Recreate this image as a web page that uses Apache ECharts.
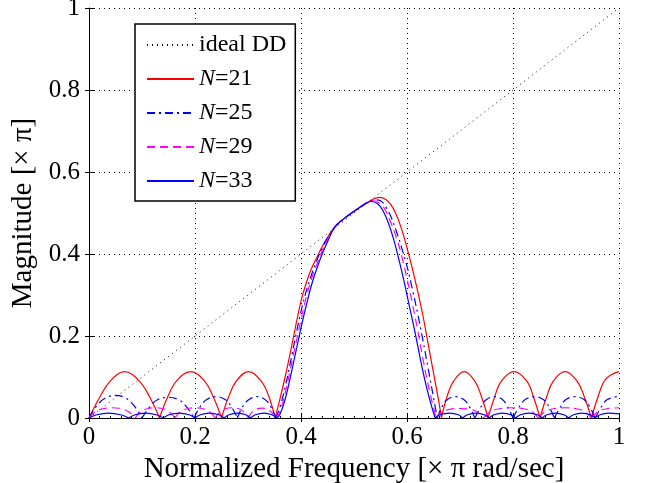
<!DOCTYPE html>
<html lang="en">
<head>
  <meta charset="utf-8">
  <title>Differentiator magnitude response</title>
  <script src="https://cdn.jsdelivr.net/npm/echarts@6/dist/echarts.min.js"></script>
  <style>
    * { margin: 0; padding: 0; }
    html, body, #chart { width: 645px; height: 483px; background: #fff; }
  </style>
</head>
<body>
  <div id="chart"></div>
  <script>
    // ideal differentiator response (straight line)
    const idealDD = [[0, 0], [1, 1]];

    // each curve is kept as lobes: stopband arches + the passband hump
    const n21 = [
      [[0, 0], [0.02, 0.05], [0.04, 0.09], [0.067, 0.113], [0.095, 0.09], [0.115, 0.05], [0.133, 0]],
      [[0.133, 0], [0.148, 0.05], [0.165, 0.09], [0.192, 0.113], [0.218, 0.09], [0.235, 0.05], [0.25, 0]],
      [[0.25, 0], [0.263, 0.05], [0.278, 0.09], [0.301, 0.113], [0.325, 0.09], [0.34, 0.05], [0.351, 0]],
      [[0.351, 0], [0.36, 0.045], [0.37, 0.1], [0.38, 0.16], [0.39, 0.225], [0.4, 0.285], [0.41, 0.33], [0.42, 0.365],
       [0.433, 0.4], [0.445, 0.43], [0.464, 0.466], [0.48, 0.485], [0.5, 0.504], [0.52, 0.522], [0.535, 0.533],
       [0.548, 0.538], [0.56, 0.533], [0.57, 0.52], [0.58, 0.495], [0.59, 0.46], [0.6, 0.415], [0.61, 0.365],
       [0.62, 0.31], [0.63, 0.25], [0.64, 0.18], [0.65, 0.11], [0.66, 0.04], [0.665, 0]],
      [[0.665, 0], [0.675, 0.05], [0.688, 0.09], [0.708, 0.113], [0.728, 0.09], [0.741, 0.05], [0.753, 0]],
      [[0.753, 0], [0.765, 0.05], [0.778, 0.09], [0.802, 0.113], [0.826, 0.09], [0.839, 0.05], [0.851, 0]],
      [[0.851, 0], [0.863, 0.05], [0.876, 0.09], [0.898, 0.113], [0.921, 0.09], [0.935, 0.05], [0.948, 0]],
      [[0.948, 0], [0.96, 0.05], [0.975, 0.095], [1, 0.113]]
    ];

    const n25 = [
      [[0, 0], [0.015, 0.03], [0.03, 0.048], [0.05, 0.055], [0.07, 0.048], [0.085, 0.03], [0.1, 0]],
      [[0.1, 0], [0.115, 0.028], [0.13, 0.045], [0.15, 0.05], [0.17, 0.044], [0.185, 0.026], [0.198, 0]],
      [[0.198, 0], [0.21, 0.028], [0.222, 0.045], [0.24, 0.052], [0.257, 0.045], [0.269, 0.027], [0.28, 0]],
      [[0.28, 0], [0.29, 0.028], [0.302, 0.045], [0.318, 0.052], [0.334, 0.043], [0.344, 0.025], [0.352, 0]],
      [[0.352, 0], [0.36, 0.025], [0.37, 0.075], [0.38, 0.135], [0.39, 0.2], [0.4, 0.26], [0.41, 0.31], [0.42, 0.35],
       [0.43, 0.385], [0.44, 0.415], [0.45, 0.44], [0.464, 0.466], [0.48, 0.485], [0.5, 0.504], [0.52, 0.522],
       [0.53, 0.528], [0.54, 0.532], [0.55, 0.53], [0.56, 0.515], [0.57, 0.49], [0.58, 0.455], [0.59, 0.415],
       [0.6, 0.37], [0.61, 0.315], [0.62, 0.255], [0.63, 0.19], [0.64, 0.12], [0.65, 0.05], [0.657, 0]],
      [[0.657, 0], [0.667, 0.03], [0.677, 0.046], [0.692, 0.052], [0.707, 0.045], [0.718, 0.027], [0.728, 0]],
      [[0.728, 0], [0.74, 0.028], [0.75, 0.045], [0.765, 0.052], [0.78, 0.045], [0.79, 0.027], [0.8, 0]],
      [[0.8, 0], [0.812, 0.028], [0.823, 0.045], [0.84, 0.052], [0.857, 0.045], [0.868, 0.027], [0.878, 0]],
      [[0.878, 0], [0.89, 0.028], [0.9, 0.045], [0.917, 0.052], [0.934, 0.045], [0.945, 0.027], [0.955, 0]],
      [[0.955, 0], [0.967, 0.028], [0.978, 0.045], [1, 0.053]]
    ];

    const n29 = [
      [[0, 0], [0.012, 0.015], [0.025, 0.022], [0.043, 0.025], [0.062, 0.022], [0.075, 0.015], [0.087, 0]],
      [[0.087, 0], [0.097, 0.015], [0.108, 0.022], [0.125, 0.025], [0.142, 0.022], [0.152, 0.015], [0.162, 0]],
      [[0.162, 0], [0.172, 0.015], [0.183, 0.022], [0.2, 0.025], [0.217, 0.022], [0.228, 0.015], [0.238, 0]],
      [[0.238, 0], [0.247, 0.015], [0.256, 0.022], [0.27, 0.025], [0.284, 0.022], [0.292, 0.015], [0.3, 0]],
      [[0.3, 0], [0.308, 0.015], [0.316, 0.022], [0.327, 0.024], [0.338, 0.02], [0.346, 0.012], [0.353, 0]],
      [[0.353, 0], [0.36, 0.015], [0.37, 0.06], [0.38, 0.12], [0.39, 0.18], [0.4, 0.24], [0.41, 0.295], [0.42, 0.34],
       [0.43, 0.375], [0.44, 0.408], [0.45, 0.435], [0.464, 0.466], [0.48, 0.485], [0.5, 0.504], [0.52, 0.521],
       [0.535, 0.53], [0.55, 0.522], [0.56, 0.505], [0.57, 0.475], [0.58, 0.44], [0.59, 0.395], [0.6, 0.34],
       [0.61, 0.28], [0.62, 0.215], [0.63, 0.145], [0.64, 0.08], [0.65, 0.025], [0.655, 0]],
      [[0.655, 0], [0.666, 0.014], [0.68, 0.021], [0.7, 0.023], [0.72, 0.021], [0.733, 0.014], [0.745, 0]],
      [[0.745, 0], [0.757, 0.015], [0.772, 0.022], [0.797, 0.025], [0.822, 0.022], [0.836, 0.015], [0.848, 0]],
      [[0.848, 0], [0.86, 0.015], [0.874, 0.022], [0.898, 0.025], [0.922, 0.022], [0.936, 0.015], [0.948, 0]],
      [[0.948, 0], [0.96, 0.015], [0.975, 0.022], [1, 0.025]]
    ];

    const n33 = [
      [[0, 0], [0.015, 0.008], [0.037, 0.012], [0.06, 0.008], [0.075, 0]],
      [[0.075, 0], [0.087, 0.008], [0.107, 0.012], [0.127, 0.008], [0.14, 0]],
      [[0.14, 0], [0.151, 0.008], [0.17, 0.012], [0.189, 0.008], [0.2, 0]],
      [[0.2, 0], [0.21, 0.008], [0.227, 0.012], [0.245, 0.008], [0.255, 0]],
      [[0.255, 0], [0.264, 0.008], [0.28, 0.012], [0.296, 0.008], [0.305, 0]],
      [[0.305, 0], [0.314, 0.008], [0.33, 0.012], [0.345, 0.008], [0.354, 0]],
      [[0.354, 0], [0.36, 0.008], [0.37, 0.045], [0.38, 0.1], [0.39, 0.16], [0.4, 0.22], [0.41, 0.275], [0.42, 0.325],
       [0.43, 0.365], [0.44, 0.4], [0.45, 0.43], [0.464, 0.466], [0.48, 0.485], [0.5, 0.504], [0.52, 0.521],
       [0.532, 0.528], [0.545, 0.522], [0.555, 0.505], [0.565, 0.475], [0.575, 0.435], [0.585, 0.385],
       [0.595, 0.33], [0.605, 0.27], [0.615, 0.21], [0.625, 0.145], [0.635, 0.085], [0.645, 0.035], [0.653, 0]],
      [[0.653, 0], [0.662, 0.008], [0.68, 0.012], [0.697, 0.008], [0.705, 0]],
      [[0.705, 0], [0.714, 0.008], [0.73, 0.012], [0.746, 0.008], [0.755, 0]],
      [[0.755, 0], [0.764, 0.008], [0.78, 0.012], [0.796, 0.008], [0.805, 0]],
      [[0.805, 0], [0.814, 0.008], [0.83, 0.012], [0.846, 0.008], [0.855, 0]],
      [[0.855, 0], [0.864, 0.008], [0.88, 0.012], [0.896, 0.008], [0.905, 0]],
      [[0.905, 0], [0.914, 0.008], [0.93, 0.012], [0.946, 0.008], [0.955, 0]],
      [[0.955, 0], [0.964, 0.008], [0.98, 0.012], [1, 0.01]]
    ];

    const xTicks = [0, 0.2, 0.4, 0.6, 0.8, 1];

    // join lobes with a gap so every zero stays a sharp notch
    function joinLobes(lobes) {
      const out = [];
      lobes.forEach((lobe, i) => {
        if (i > 0) out.push(null);
        lobe.forEach(p => out.push(p));
      });
      return out;
    }

    const serif = '"Liberation Serif", "DejaVu Serif", serif';
    const gridLine = { show: true, lineStyle: { color: '#000', type: [1, 4], width: 1 } };

    const chart = echarts.init(document.getElementById('chart'));

    const lineSeries = (name, lobes, color, type) => ({
      name: name,
      type: 'line',
      data: joinLobes(lobes),
      symbol: 'none',
      smooth: 0.4,
      connectNulls: false,
      lineStyle: { color: color, width: 1.2, type: type },
      itemStyle: { color: color }
    });

    chart.setOption({
      animation: false,
      grid: { left: 89, right: 26, top: 8, bottom: 65, outerBoundsMode: 'none' },
      legend: {
        orient: 'vertical',
        left: 135,
        top: 24,
        padding: [9, 9, 8, 11],
        itemGap: 10,
        itemWidth: 47,
        itemHeight: 14,
        backgroundColor: '#fff',
        borderColor: '#000',
        borderWidth: 1.5,
        itemStyle: { opacity: 0 },
        data: ['ideal DD', 'N=21', 'N=25', 'N=29', 'N=33'],
        formatter: name => name === 'ideal DD' ? name : '{i|N}' + name.slice(1),
        textStyle: {
          fontFamily: serif, fontSize: 24, color: '#000', lineHeight: 24,
          rich: { i: { fontFamily: serif, fontSize: 24, fontStyle: 'italic', color: '#000' } }
        }
      },
      xAxis: [{
        type: 'value', min: 0, max: 1, interval: 0.2,
        name: 'Normalized Frequency [× π rad/sec]',
        nameLocation: 'middle', nameGap: 32,
        nameTextStyle: { fontFamily: serif, fontSize: 29, color: '#000' },
        axisLine: { lineStyle: { color: '#000', width: 1 } },
        axisTick: { inside: true, length: 5, lineStyle: { color: '#000' } },
        minorTick: { show: true, splitNumber: 10, length: 2, lineStyle: { color: '#000' } },
        axisLabel: {
          fontFamily: serif, fontSize: 25, color: '#000', margin: 7,
          formatter: v => xTicks.includes(v) ? (v === 0 || v === 1 ? String(v) : v.toFixed(1)) : ''
        },
        splitLine: gridLine
      }, {
        type: 'value', min: 0, max: 1, interval: 0.2, position: 'top',
        axisLine: { show: false },
        axisTick: { inside: true, length: 4, lineStyle: { color: '#000' } },
        axisLabel: { show: false },
        splitLine: { show: false }
      }],
      yAxis: [{
        type: 'value', min: 0, max: 1, interval: 0.2,
        name: 'Magnitude [× π]',
        nameLocation: 'middle', nameGap: 51,
        nameTextStyle: { fontFamily: serif, fontSize: 29, color: '#000' },
        axisLine: { lineStyle: { color: '#000', width: 1 } },
        axisTick: { inside: true, length: 5, lineStyle: { color: '#000' } },
        axisLabel: {
          fontFamily: serif, fontSize: 25, color: '#000', margin: 9,
          formatter: v => (v === 0 || v === 1) ? String(v) : v.toFixed(1)
        },
        splitLine: gridLine
      }, {
        type: 'value', min: 0, max: 1, interval: 0.2, position: 'right',
        axisLine: { show: false },
        axisTick: { inside: true, length: 4, lineStyle: { color: '#000' } },
        axisLabel: { show: false },
        splitLine: { show: false }
      }],
      series: [
        {
          name: 'ideal DD', type: 'line', data: idealDD, symbol: 'none',
          lineStyle: { color: '#111', width: 1, type: [1, 4] },
          itemStyle: { color: '#111' }
        },
        lineSeries('N=21', n21, '#ff0000', 'solid'),
        lineSeries('N=25', n25, '#0000ff', [8, 4, 2, 4]),
        lineSeries('N=29', n29, '#ff00ff', [8, 5]),
        lineSeries('N=33', n33, '#0000ff', 'solid')
      ]
    });
  </script>
</body>
</html>
